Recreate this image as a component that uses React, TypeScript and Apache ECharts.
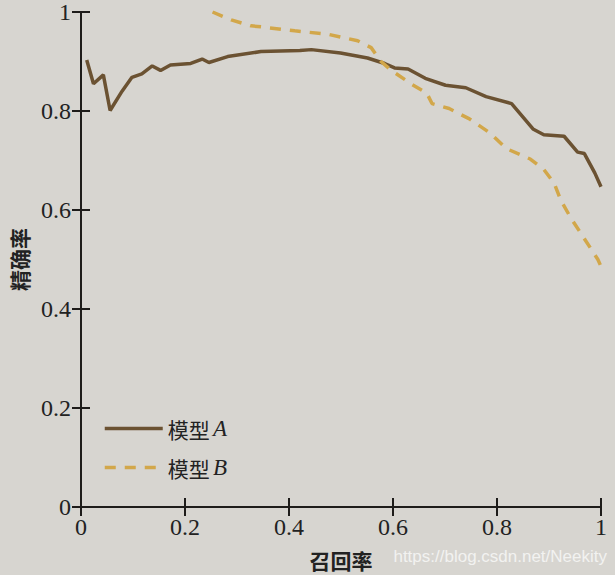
import React, { useEffect, useRef } from "react";
import * as echarts from "echarts";

const xTicks = [0, 0.2, 0.4, 0.6, 0.8, 1];
const yTicks = [0, 0.2, 0.4, 0.6, 0.8, 1];

const seriesNames = ["模型 A", "模型 B"];

const recallA = [0.011, 0.024, 0.043, 0.056, 0.079, 0.098, 0.117, 0.137, 0.153, 0.172, 0.211, 0.233, 0.246, 0.282, 0.346, 0.421, 0.443, 0.499, 0.551, 0.584, 0.603, 0.629, 0.662, 0.701, 0.74, 0.779, 0.828, 0.87, 0.89, 0.929, 0.955, 0.968, 0.988, 1.0];
const precisionA = [0.903, 0.855, 0.873, 0.801, 0.84, 0.868, 0.875, 0.891, 0.882, 0.893, 0.896, 0.905, 0.898, 0.91, 0.92, 0.922, 0.924, 0.917, 0.907, 0.896, 0.887, 0.885, 0.866, 0.852, 0.847, 0.829, 0.815, 0.763, 0.752, 0.749, 0.717, 0.714, 0.675, 0.647];

const recallB = [0.253, 0.289, 0.327, 0.346, 0.411, 0.475, 0.532, 0.558, 0.577, 0.597, 0.636, 0.665, 0.675, 0.708, 0.747, 0.786, 0.818, 0.864, 0.89, 0.91, 0.923, 0.942, 0.968, 0.994, 1.0];
const precisionB = [1.0, 0.984, 0.972, 0.97, 0.962, 0.955, 0.942, 0.928, 0.9, 0.882, 0.854, 0.836, 0.815, 0.805, 0.784, 0.756, 0.724, 0.703, 0.682, 0.654, 0.619, 0.584, 0.542, 0.5, 0.486];

const SERIF = "Liberation Serif";
const CJK = "Noto Sans CJK SC";

export default function App() {
  const ref = useRef<HTMLDivElement>(null);
  useEffect(() => {
    if (!ref.current) return;
    const chart = echarts.init(ref.current, undefined, { renderer: "svg" });
    const axisLine = { show: true, lineStyle: { color: "#1e1c1a", width: 2 } };
    const axisTick = { show: true, inside: true, length: 9, lineStyle: { color: "#1e1c1a", width: 2 } };
    const fmt = (v: number) => (v === 0 || v === 1 ? String(v) : v.toFixed(1));
    chart.setOption({
      animation: false,
      backgroundColor: "#d7d5d0",
      grid: { left: 76, right: 14, top: 10, bottom: 66 },
      legend: {
        orient: "vertical",
        left: 98,
        top: 412,
        itemWidth: 58,
        itemHeight: 14,
        itemGap: 16,
        data: seriesNames,
        itemStyle: { opacity: 0 },
        lineStyle: { width: 3.5 },
        formatter: (name: string) => {
          const parts = name.split(" ");
          return `{c|${parts[0]}} {i|${parts[1]}}`;
        },
        textStyle: {
          color: "#222",
          rich: {
            c: { fontFamily: CJK, fontSize: 21, color: "#222" },
            i: { fontFamily: SERIF, fontStyle: "italic", fontSize: 23, color: "#222" },
          },
        },
      },
      xAxis: [
        {
          type: "value",
          min: 0,
          max: 1,
          interval: 0.2,
          name: "召回率",
          nameLocation: "middle",
          nameGap: 42,
          nameTextStyle: { fontFamily: CJK, fontSize: 21, color: "#222", fontWeight: "bold" },
          axisLine,
          axisTick,
          splitLine: { show: false },
          axisLabel: { fontFamily: SERIF, fontSize: 24, color: "#222", margin: 8, formatter: fmt, customValues: xTicks },
        },
        {
          type: "value",
          position: "top",
          min: 0,
          max: 1,
          interval: 0.2,
          axisLine,
          axisTick,
          splitLine: { show: false },
          axisLabel: { show: false },
        },
      ],
      yAxis: [
        {
          type: "value",
          min: 0,
          max: 1,
          interval: 0.2,
          name: "精确率",
          nameLocation: "middle",
          nameGap: 52,
          nameRotate: 90,
          nameTextStyle: { fontFamily: CJK, fontSize: 21, color: "#222", fontWeight: "bold" },
          axisLine,
          axisTick,
          splitLine: { show: false },
          axisLabel: { fontFamily: SERIF, fontSize: 24, color: "#222", margin: 10, formatter: fmt, customValues: yTicks },
        },
        {
          type: "value",
          position: "right",
          min: 0,
          max: 1,
          interval: 0.2,
          axisLine,
          axisTick,
          splitLine: { show: false },
          axisLabel: { show: false },
        },
      ],
      series: [
        {
          name: seriesNames[0],
          type: "line",
          data: recallA.map((r, i) => [r, precisionA[i]]),
          showSymbol: false,
          symbol: "none",
          lineStyle: { color: "#6b5232", width: 3.5 },
          itemStyle: { color: "#6b5232" },
          clip: true,
        },
        {
          name: seriesNames[1],
          type: "line",
          data: recallB.map((r, i) => [r, precisionB[i]]),
          showSymbol: false,
          symbol: "none",
          lineStyle: { color: "#d2a74a", width: 3.5, type: [11, 9] },
          itemStyle: { color: "#d2a74a" },
          clip: true,
        },
      ],
      graphic: [
        {
          type: "text",
          right: 8,
          bottom: 10,
          style: {
            text: "https://blog.csdn.net/Neekity",
            fontFamily: "Liberation Sans",
            fontSize: 17,
            fill: "#f2f2f0",
          },
        },
      ],
    });
    return () => chart.dispose();
  }, []);
  return <div ref={ref} style={{ position: "fixed", left: 0, top: 0, width: 615, height: 575 }} />;
}
